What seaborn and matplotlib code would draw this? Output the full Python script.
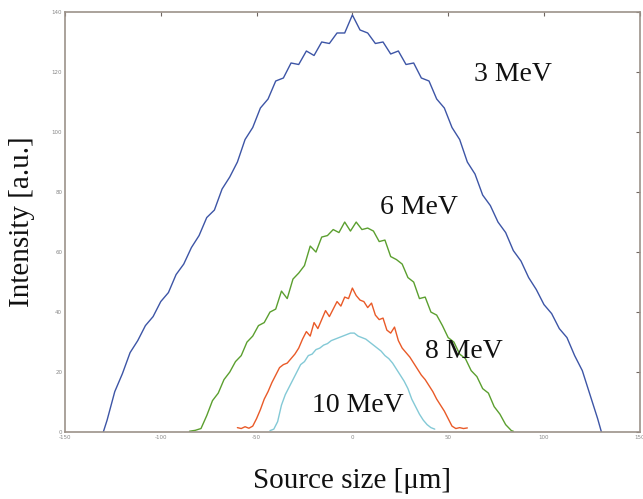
import pandas as pd
import seaborn as sns
import matplotlib.pyplot as plt

# 3 MeV profile
x_3 = [-130, -128, -124, -120, -116, -112, -108, -104, -100, -96, -92, -88, -84, -80,
       -76, -72, -68, -64, -60, -56, -52, -48, -44, -40, -36, -32, -28, -24, -20, -16,
       -12, -8, -4, 0, 4, 8, 12, 16, 20, 24, 28, 32, 36, 40, 44, 48, 52, 56, 60, 64,
       68, 72, 76, 80, 84, 88, 92, 96, 100, 104, 108, 112, 116, 120, 124, 128, 130]
y_3 = [0, 4, 13.5, 19.5, 26.5, 30.5, 35.5, 38.5, 43.5, 46.5, 52.5, 56, 61.5, 65.5,
       71.5, 74, 81, 85, 90, 97.5, 101.5, 108, 111, 117, 118, 123, 122.5, 127, 125.5, 130,
       129.5, 133, 133, 139, 134, 133, 129.5, 130, 126, 127, 122.5, 123, 118, 117, 111, 108, 101.5, 97.5, 90, 86,
       79, 75.5, 70, 66.5, 60.5, 57, 51.5, 47.5, 42.5, 39.5, 34.5, 31.5, 25.5, 20.5, 12.5, 4.5, 0]

# 6 MeV profile
x_6 = [-85, -82, -79, -76, -73, -70, -67, -64, -61, -58, -55, -52, -49, -46, -43, -40,
       -37, -34, -31, -28, -25, -22, -19, -16, -13, -10, -7, -4, -1, 2, 5, 8, 11, 14,
       17, 20, 23, 26, 29, 32, 35, 38, 41, 44, 47, 50, 53, 56, 59, 62, 65, 68, 71, 74,
       77, 80, 83, 84]
y_6 = [0.3, 0.6, 1.2, 5.5, 10.5, 13, 17.5, 20, 23.5, 25.5, 30, 32, 35.5, 36.5, 40, 41,
       47, 44.5, 51, 53, 55.5, 62, 60, 65, 65.5, 67.5, 66.5, 70, 67, 70, 67.5, 68, 67, 63.5,
       64, 58.5, 57.5, 56, 51.5, 50, 44.5, 45, 40, 39, 35.5, 31.5, 30, 26, 24.5, 20.5, 18.5, 14.5, 13, 8.5,
       6, 2.5, 0.5, 0.3]

# 8 MeV profile
x_8 = [-60, -58, -56, -54, -52, -50, -48, -46, -44, -42, -40, -38, -36, -34, -32, -30,
       -28, -26, -24, -22, -20, -18, -16, -14, -12, -10, -8, -6, -4, -2, 0, 2, 4, 6,
       8, 10, 12, 14, 16, 18, 20, 22, 24, 26, 28, 30, 32, 34, 36, 38, 40, 42, 44, 46,
       48, 50, 52, 54, 56, 58, 60]
y_8 = [1.5, 1.2, 1.8, 1.3, 2, 4.5, 7.5, 11, 13.5, 16.5, 19, 21.5, 22.5, 23, 24.5, 26,
       28, 31, 33.5, 32, 36.5, 34.5, 37.5, 40.5, 38.5, 41, 43.5, 42, 45, 44.5, 48, 45.5, 44, 43.5,
       41.5, 43, 39, 37.5, 38, 34, 33, 35, 30.5, 28, 26.5, 25, 23, 21, 19, 17.5, 15.5, 13.5, 11, 9,
       7, 4.5, 2, 1.2, 1.5, 1.2, 1.4]

# 10 MeV profile
x_10 = [-43, -41, -39, -37, -35, -33, -31, -29, -27, -25, -23, -21, -19, -17, -15, -13,
        -11, -9, -7, -5, -3, -1, 1, 3, 5, 7, 9, 11, 13, 15, 17, 19, 21, 23, 25, 27,
        29, 31, 33, 35, 37, 39, 41, 43]
y_10 = [0.5, 1, 3.5, 9, 12.5, 15, 17.5, 20, 22.5, 23.5, 25.5, 26, 27.5, 28, 29, 29.5,
        30.5, 31, 31.5, 32, 32.5, 33, 33, 32, 31.5, 31, 30, 29, 28, 27, 25.5, 24.5, 23, 21, 19, 17,
        14.5, 11, 8.5, 6, 4, 2.5, 1.5, 1]

labels = ['3 MeV', '6 MeV', '8 MeV', '10 MeV']
colors = ['#3d55a6', '#5b9f2f', '#e95a28', '#83c9d6']
label_pos = [(84, 119), (35, 75), (58, 27), (3, 9)]

frames = []
for lab, xs, ys in zip(labels, [x_3, x_6, x_8, x_10], [y_3, y_6, y_8, y_10]):
    frames.append(pd.DataFrame({'x': xs, 'y': ys, 'energy': lab}))
df = pd.concat(frames, ignore_index=True)

sns.set_style('white')
plt.rcParams['axes.unicode_minus'] = False
fig = plt.figure(figsize=(6.43, 4.99), dpi=100)
ax = fig.add_axes([0.101, 0.134, 0.894, 0.842])

sns.lineplot(data=df, x='x', y='y', hue='energy', palette=colors, hue_order=labels,
             estimator=None, sort=False, lw=1.0, legend=False, ax=ax)

ax.set_xlim(-150, 150)
ax.set_ylim(0, 140)
ax.set_xticks([-150, -100, -50, 0, 50, 100, 150])
ax.set_yticks(range(0, 141, 20))

spine_col = '#9c928a'
for s in ax.spines.values():
    s.set_color(spine_col)
    s.set_linewidth(1.2)
ax.tick_params(direction='in', length=3, width=0.8, color='#6e6660',
               labelsize=4, labelcolor='#888888', top=True, right=True, pad=2)

serif = ['Liberation Serif', 'DejaVu Serif']
ax.set_xlabel('Source size [\u03bcm]', family=serif, fontsize=21, labelpad=20, color='#111111')
ax.set_ylabel('Intensity [a.u.]', family=serif, fontsize=21, labelpad=12, color='#111111')

for lab, (px, py) in zip(labels, label_pos):
    ax.text(px, py, lab, family=serif, fontsize=20, ha='center', va='center', color='#111111')

plt.savefig('out.png', dpi=100)
